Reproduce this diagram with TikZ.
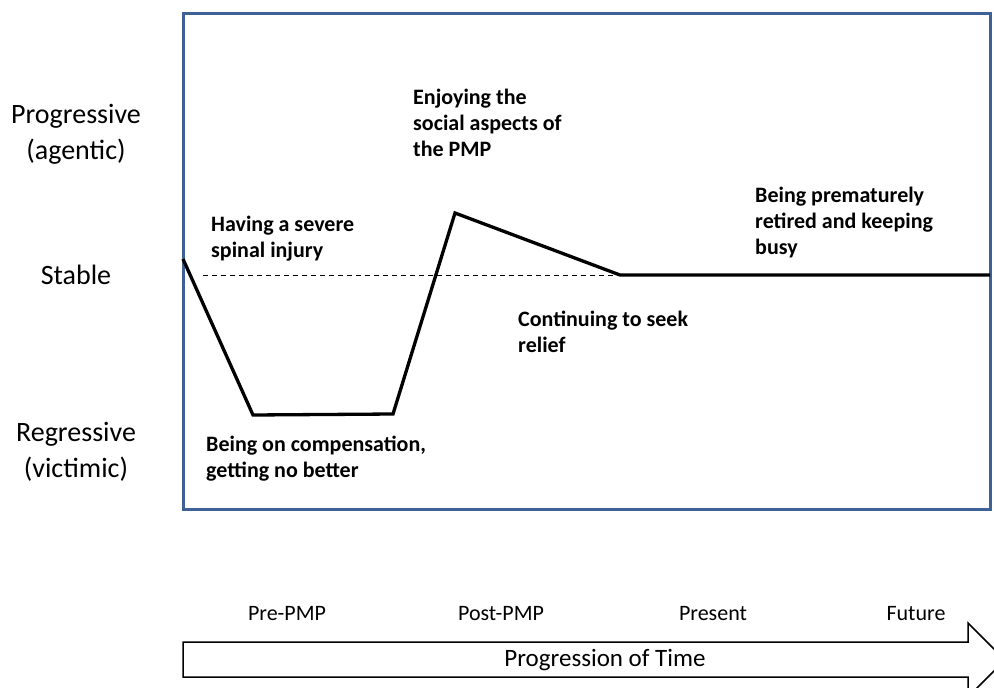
\documentclass[tikz,border=0pt]{standalone}
\usepackage{fontspec}
\setmainfont{Carlito}
\definecolor{frameblue}{HTML}{3E6295}
\begin{document}
\begin{tikzpicture}[x=1pt,y=-1pt,
  axislabel/.style={font=\fontsize{28}{36}\selectfont, align=center, inner sep=0pt},
  eventlabel/.style={font=\fontsize{22}{26}\selectfont\bfseries, align=left, anchor=north west, inner sep=0pt},
  phaselabel/.style={font=\fontsize{22}{26}\selectfont, inner sep=0pt},
  trajectory/.style={line width=3.3pt, line join=miter},
]
\useasboundingbox (0,0) rectangle (994,688);
\fill[white] (0,0) rectangle (994,688);

% chart frame
\draw[frameblue, line width=3pt] (183,13) rectangle (990,509);

% vertical scale
\node[axislabel] (prog) at (76,134) {Progressive\\(agentic)};
\node[axislabel] (stab) at (76,275) {Stable};
\node[axislabel] (regr) at (76,452) {Regressive\\(victimic)};

% stable baseline
\coordinate (d0) at (203,275);
\coordinate (d1) at (620,275);
\draw[line width=0.8pt, dash pattern=on 5pt off 4pt] (d0) -- (d1);

% trajectory points
\coordinate (p0) at (183,259);
\coordinate (p1) at (253,415);
\coordinate (p2) at (393,414);
\coordinate (p3) at (455,213);
\coordinate (p4) at (620,275);
\coordinate (p5) at (990,275);
\draw[trajectory] (p0) -- (p1) -- (p2) -- (p3) -- (p4) -- (p5);

% event labels
\node[eventlabel] (e1) at (211,216) {Having a severe\\spinal injury};
\node[eventlabel] (e2) at (206,436) {Being on compensation,\\getting no better};
\node[eventlabel] (e3) at (413,89) {Enjoying the\\social aspects of\\the PMP};
\node[eventlabel] (e4) at (518,311) {Continuing to seek\\relief};
\node[eventlabel] (e5) at (755,187) {Being prematurely\\retired and keeping\\busy};

% time phases
\node[phaselabel] (t1) at (287,614) {Pre-PMP};
\node[phaselabel] (t2) at (501,614) {Post-PMP};
\node[phaselabel] (t3) at (713,614) {Present};
\node[phaselabel] (t4) at (916,614) {Future};

% time arrow
\draw[line width=1.5pt, line join=miter, fill=white]
  (183,642) -- (968,642) -- (968,623) -- (1005,660) -- (968,697) -- (968,677) -- (183,677) -- cycle;
\node[phaselabel, font=\fontsize{25}{30}\selectfont] (time) at (605,660) {Progression of Time};
\end{tikzpicture}
\end{document}
